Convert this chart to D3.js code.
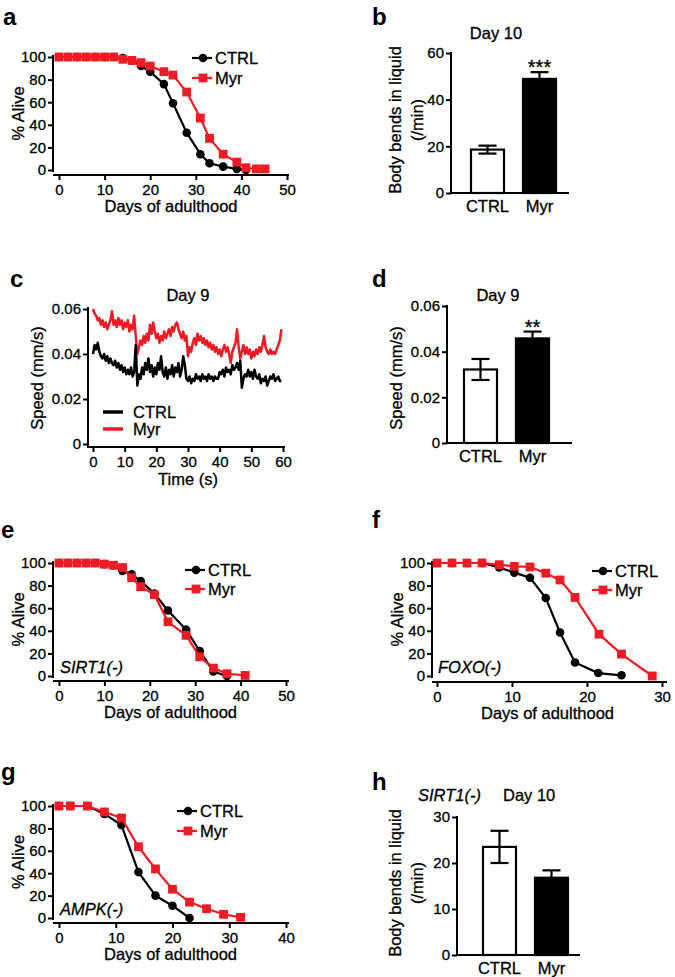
<!DOCTYPE html>
<html><head><meta charset="utf-8">
<script src="https://cdn.jsdelivr.net/npm/d3@7"></script>
<style>
body{margin:0;background:#fff}
svg{display:block}
svg text{stroke:#000;stroke-width:0.3px}
</style></head><body>
<svg id="chart" width="675" height="977"></svg>
<script>
const RED = "#ef1b24";
const FONT = '"Liberation Sans", Arial, Helvetica, sans-serif';

// ---------- DATA ----------
const pctTicks = [0, 20, 40, 60, 80, 100];
const barCats = ["CTRL", "Myr"];

// Panel a – lifespan (wild type)
const aCtrlDays = [0,2,4,6,8,10,12,14,16,18,20,23,25,28,31,33,36,39,41];
const aCtrlAlive = [100,100,100,100,100,100,100,99,97,92,87,76,59,33,14,6,3,1,0];
const aMyrDays = [0,2,4,6,8,10,12,14,16,18,20,23,25,28,31,33,36,39,41,43.3,45.2];
const aMyrAlive = [100,100,100,100,100,100,100,98,97,95,92,87,84,69,46,28,14,7,2,1,1];

// Panel b – body bends, day 10
const bMeans = [18.6, 48.9];
const bErr = [1.7, 2.9];

// Panel c – speed trace, day 9 (samples every 0.5 s)
const speedCtrl = [
0.040,0.044,0.042,0.045,0.041,0.039,0.038,0.040,0.037,0.039,
0.036,0.038,0.036,0.035,0.037,0.034,0.036,0.033,0.035,0.032,
0.034,0.031,0.033,0.031,0.034,0.030,0.032,0.044,0.026,0.031,
0.029,0.034,0.031,0.036,0.033,0.038,0.032,0.035,0.030,0.034,
0.031,0.036,0.033,0.039,0.032,0.030,0.034,0.029,0.033,0.031,
0.035,0.030,0.034,0.032,0.036,0.030,0.033,0.039,0.035,0.029,
0.028,0.030,0.027,0.029,0.028,0.031,0.029,0.030,0.028,0.031,
0.029,0.030,0.028,0.031,0.029,0.030,0.028,0.030,0.029,0.029,
0.032,0.031,0.033,0.030,0.034,0.032,0.033,0.031,0.035,0.033,
0.034,0.036,0.033,0.037,0.025,0.029,0.031,0.030,0.033,0.030,
0.032,0.029,0.033,0.030,0.029,0.031,0.027,0.029,0.028,0.030,
0.026,0.028,0.030,0.029,0.031,0.028,0.029,0.030,0.028,0.028];
const speedMyr = [
0.060,0.058,0.057,0.055,0.056,0.053,0.055,0.052,0.054,0.051,
0.053,0.055,0.059,0.053,0.055,0.052,0.056,0.053,0.055,0.051,
0.054,0.052,0.055,0.050,0.053,0.051,0.057,0.048,0.040,0.043,
0.046,0.044,0.048,0.045,0.049,0.046,0.053,0.049,0.054,0.050,
0.047,0.049,0.045,0.048,0.046,0.050,0.047,0.049,0.051,0.048,
0.052,0.050,0.053,0.054,0.051,0.049,0.047,0.050,0.046,0.048,
0.039,0.043,0.041,0.045,0.047,0.044,0.049,0.046,0.048,0.045,
0.047,0.044,0.046,0.043,0.045,0.042,0.044,0.041,0.043,0.040,
0.042,0.039,0.042,0.044,0.041,0.043,0.040,0.036,0.041,0.043,
0.045,0.051,0.043,0.038,0.041,0.044,0.040,0.043,0.040,0.042,
0.038,0.041,0.039,0.042,0.040,0.043,0.041,0.044,0.048,0.043,
0.041,0.040,0.042,0.040,0.041,0.040,0.042,0.044,0.046,0.051];
const sampleStep = 0.5;
const timeTicks = [0,10,20,30,40,50,60];
const speedTicks = [0, 0.02, 0.04, 0.06];

// Panel d – mean speed, day 9
const dMeans = [0.0322, 0.0458];
const dErr = [0.0046, 0.0030];

// Panel e – SIRT1(-)
const eCtrlDays = [0,2,4,6,8,10,12,14,16,18,21,24,28,31,34,37];
const eCtrlAlive = [100,100,100,100,100,99,98,93,90,84,73,58,41,22,4,0];
const eMyrDays = [0,2,4,6,8,10,12,14,16,18,21,24,28,31,34,37,41];
const eMyrAlive = [100,100,100,100,100,99,98,96,87,79,72,48,36,17,7,2,0.5];

// Panel f – FOXO(-)
const fCtrlDays = [0,2,4,6,8.3,10.3,12.4,14.5,16.4,18.4,21.5,24.6];
const fCtrlAlive = [100,100,100,100,96,91.5,87,69,38.5,12,2.6,0.6];
const fMyrDays = [0,2,4,6,8.3,10.3,12.4,14.5,16.4,18.4,21.6,24.6,28.7];
const fMyrAlive = [100,100,100,100,98.5,97,96.5,91,85,69.5,37,19.4,0];

// Panel g – AMPK(-)
const gCtrlDays = [0,2,5,8,11,14,17,20,23];
const gCtrlAlive = [100,100,100,93,83,41,20,11,0];
const gMyrDays = [0,2,5,8,11,14,17,20,23,26,29,32];
const gMyrAlive = [100,100,100,94.7,89.3,63.6,43.8,25.7,14.2,8.3,3.3,0.6];

// Panel h – SIRT1(-) body bends, day 10
const hMeans = [23.5, 16.8];
const hErr = [3.5, 1.6];

// ---------- DRAWING ----------
const svg = d3.select("#chart").attr("font-family", FONT);

function styleAxis(g, size) {
  g.select(".domain").remove();
  g.selectAll("text").attr("font-size", size).attr("fill", "#000").attr("font-family", FONT);
  g.selectAll("line").attr("stroke", "#000").attr("stroke-width", 2);
}
function seg(x1, y1, x2, y2, w) {
  svg.append("line").attr("x1", x1).attr("y1", y1).attr("x2", x2).attr("y2", y2)
    .attr("stroke", "#000").attr("stroke-width", w || 2);
}
function txt(x, y, s, opt) {
  opt = opt || {};
  const t = svg.append("text").attr("x", x).attr("y", y).text(s)
    .attr("font-size", opt.size || 16.5).attr("fill", opt.fill || "#000")
    .attr("text-anchor", opt.anchor || "start");
  if (opt.bold) t.attr("font-weight", "bold").style("stroke-width", "0px");
  if (opt.italic) t.attr("font-style", "italic");
  return t;
}
function vtxt(cx, cy, s, size) {
  svg.append("text").attr("transform", `translate(${cx},${cy}) rotate(-90)`)
    .attr("text-anchor", "middle").attr("font-size", size || 16.5).attr("fill", "#000").text(s);
}
function letter(x, y, s) { txt(x, y, s, {size: 24, bold: true}); }

function drawMarkers(sel, data, x, y, kind, color) {
  if (kind === "circle") {
    sel.selectAll(null).data(data).enter().append("circle")
      .attr("cx", d => x(d[0])).attr("cy", d => y(d[1])).attr("r", 4.3).attr("fill", color);
  } else {
    sel.selectAll(null).data(data).enter().append("rect")
      .attr("x", d => x(d[0]) - 4.4).attr("y", d => y(d[1]) - 4.4)
      .attr("width", 8.8).attr("height", 8.8).attr("fill", color);
  }
}

function survival(p) {
  const x = d3.scaleLinear().domain(p.xDomain).range(p.xRange);
  const y = d3.scaleLinear().domain([0, 100]).range(p.yRange);
  const gy = svg.append("g").attr("transform", `translate(${p.axisX},0)`)
    .call(d3.axisLeft(y).tickValues(pctTicks).tickSize(5).tickPadding(2));
  styleAxis(gy, 15);
  seg(p.axisX, y(100) - 2, p.axisX, y(0) + 2);
  const gx = svg.append("g").attr("transform", `translate(0,${p.axisY})`)
    .call(d3.axisBottom(x).tickValues(p.xTicks).tickSize(5).tickPadding(4));
  styleAxis(gx, 15);
  seg(p.axisX, p.axisY, p.axisEnd, p.axisY);

  const line = d3.line().x(d => x(d[0])).y(d => y(d[1]));
  const ctrl = p.ctrlDays.map((d, i) => [d, p.ctrlAlive[i]]);
  const myr = p.myrDays.map((d, i) => [d, p.myrAlive[i]]);
  const g = svg.append("g");
  g.append("path").datum(ctrl).attr("d", line).attr("fill", "none").attr("stroke", "#000").attr("stroke-width", 2.2);
  drawMarkers(g, ctrl, x, y, "circle", "#000");
  g.append("path").datum(myr).attr("d", line).attr("fill", "none").attr("stroke", RED).attr("stroke-width", 2.2);
  drawMarkers(g, myr, x, y, "square", RED);

  // legend
  const L = p.legend;
  svg.append("line").attr("x1", L.x).attr("x2", L.x + 20).attr("y1", L.y).attr("y2", L.y).attr("stroke", "#000").attr("stroke-width", 2.2);
  svg.append("circle").attr("cx", L.x + 11).attr("cy", L.y).attr("r", 4.3).attr("fill", "#000");
  txt(L.x + 23, L.y + 6, barCats[0], {size: 16.5});
  svg.append("line").attr("x1", L.x).attr("x2", L.x + 20).attr("y1", L.y + L.dy).attr("y2", L.y + L.dy).attr("stroke", RED).attr("stroke-width", 2.2);
  svg.append("rect").attr("x", L.x + 6.6).attr("y", L.y + L.dy - 4.4).attr("width", 8.8).attr("height", 8.8).attr("fill", RED);
  txt(L.x + 23, L.y + L.dy + 6, barCats[1], {size: 16.5});

  // axis titles
  vtxt(p.axisX - 29, (y(0) + y(100)) / 2, "% Alive");
  txt((p.xRange[0] + p.xRange[1]) / 2 - 2, p.axisY + 37, "Days of adulthood", {anchor: "middle"});
  if (p.strain) txt(x(0) + 1, y(0) - 3, p.strain, {italic: true});
}

function bars(p) {
  const x = d3.scaleBand().domain(barCats).range(p.band).paddingInner(0.365).paddingOuter(0.365);
  const y = d3.scaleLinear().domain([0, p.max]).range(p.yRange);
  const gy = svg.append("g").attr("transform", `translate(${p.axisX},0)`)
    .call(d3.axisLeft(y).tickValues(p.ticks).tickSize(5).tickPadding(2).tickFormat(p.fmt || (d => d)));
  styleAxis(gy, 15);
  seg(p.axisX, y(p.max) - 1, p.axisX, y(0));
  seg(p.axisX - 1, y(0), p.axisEnd, y(0));

  const w = x.bandwidth();
  barCats.forEach((c, i) => {
    const cx = x(c) + w / 2;
    const top = y(p.means[i]);
    const eTop = y(p.means[i] + p.err[i]), eBot = y(p.means[i] - p.err[i]);
    seg(cx, eTop, cx, i === 0 ? eBot : top, 2.2);
    seg(cx - 9, eTop, cx + 9, eTop, 2.2);
    if (i === 0) seg(cx - 9, eBot, cx + 9, eBot, 2.2);
    svg.append("rect").attr("x", x(c)).attr("y", top).attr("width", w).attr("height", y(0) - top)
      .attr("fill", i === 0 ? "none" : "#000").attr("stroke", "#000").attr("stroke-width", 2.2);
    txt(cx, y(0) + 19, c, {anchor: "middle", size: 16.5});
  });
  if (p.stars) {
    const cx = x(barCats[1]) + w / 2;
    txt(cx, y(p.means[1] + p.err[1]) + 2, p.stars, {anchor: "middle", size: 20});
  }
}

// Panel a
letter(3, 25, "a");
survival({xDomain: [0, 50], xRange: [59, 287], yRange: [170, 57], axisX: 53, axisY: 175, axisEnd: 289,
  xTicks: [0, 10, 20, 30, 40, 50],
  ctrlDays: aCtrlDays, ctrlAlive: aCtrlAlive, myrDays: aMyrDays, myrAlive: aMyrAlive,
  legend: {x: 192, y: 58, dy: 20}});

// Panel b
letter(372, 25, "b");
txt(496, 39, "Day 10", {anchor: "middle", size: 16.5});
vtxt(401, 120, "Body bends in liquid");
vtxt(423, 120, "(/min)");
bars({band: [452, 575], max: 60, yRange: [193, 53], axisX: 451, axisEnd: 569, ticks: [0, 20, 40, 60],
  means: bMeans, err: bErr, stars: "***"});

// Panel c
letter(10, 287, "c");
(function () {
  const x = d3.scaleLinear().domain([0, 60]).range([93, 283]);
  const y = d3.scaleLinear().domain([0, 0.06]).range([444, 309]);
  const fmt = d => d === 0 ? "0" : d3.format(".2f")(d);
  const gy = svg.append("g").attr("transform", "translate(88,0)")
    .call(d3.axisLeft(y).tickValues(speedTicks).tickSize(5).tickPadding(2).tickFormat(fmt));
  styleAxis(gy, 15);
  seg(88, y(0.06) - 2, 88, 447);
  const gx = svg.append("g").attr("transform", "translate(0,447)")
    .call(d3.axisBottom(x).tickValues(timeTicks).tickSize(5).tickPadding(4));
  styleAxis(gx, 15);
  seg(87, 447, 285, 447);
  const line = d3.line().x((d, i) => x(i * sampleStep)).y(d => y(d));
  svg.append("path").datum(speedMyr).attr("d", line).attr("fill", "none").attr("stroke", RED).attr("stroke-width", 2.5).attr("stroke-linejoin", "round");
  svg.append("path").datum(speedCtrl).attr("d", line).attr("fill", "none").attr("stroke", "#000").attr("stroke-width", 2.5).attr("stroke-linejoin", "round");
  txt(188, 301, "Day 9", {anchor: "middle", size: 16.5});
  vtxt(43, 378, "Speed (mm/s)");
  txt(188, 485, "Time (s)", {anchor: "middle"});
  // legend
  svg.append("line").attr("x1", 103).attr("x2", 123).attr("y1", 412).attr("y2", 412).attr("stroke", "#000").attr("stroke-width", 3.5);
  txt(133, 418, barCats[0]);
  svg.append("line").attr("x1", 103).attr("x2", 123).attr("y1", 429).attr("y2", 429).attr("stroke", RED).attr("stroke-width", 3.5);
  txt(133, 435, barCats[1]);
})();

// Panel d
letter(372, 287, "d");
txt(498, 301, "Day 9", {anchor: "middle", size: 16.5});
vtxt(402, 378, "Speed (mm/s)");
bars({band: [445, 568], max: 0.06, yRange: [443, 306], axisX: 447, axisEnd: 572, ticks: speedTicks,
  fmt: d => d === 0 ? "0" : d3.format(".2f")(d), means: dMeans, err: dErr, stars: "**"});

// Panel e
letter(1, 538, "e");
survival({xDomain: [0, 50], xRange: [59, 286], yRange: [676, 563], axisX: 53, axisY: 681, axisEnd: 289,
  xTicks: [0, 10, 20, 30, 40, 50],
  ctrlDays: eCtrlDays, ctrlAlive: eCtrlAlive, myrDays: eMyrDays, myrAlive: eMyrAlive,
  legend: {x: 185, y: 570, dy: 19}, strain: "SIRT1(-)"});

// Panel f
letter(372, 528, "f");
survival({xDomain: [0, 30], xRange: [437, 662], yRange: [676, 563], axisX: 432, axisY: 682, axisEnd: 667,
  xTicks: [0, 10, 20, 30],
  ctrlDays: fCtrlDays, ctrlAlive: fCtrlAlive, myrDays: fMyrDays, myrAlive: fMyrAlive,
  legend: {x: 592, y: 571, dy: 19}, strain: "FOXO(-)"});

// Panel g
letter(1, 780, "g");
survival({xDomain: [0, 40], xRange: [59, 286], yRange: [918, 806], axisX: 53, axisY: 923, axisEnd: 289,
  xTicks: [0, 10, 20, 30, 40],
  ctrlDays: gCtrlDays, ctrlAlive: gCtrlAlive, myrDays: gMyrDays, myrAlive: gMyrAlive,
  legend: {x: 177, y: 811, dy: 20}, strain: "AMPK(-)"});

// Panel h
letter(372, 790, "h");
txt(418, 801, "SIRT1(-)", {italic: true, size: 16.5});
txt(503, 801, "Day 10", {size: 16.5});
vtxt(401, 883, "Body bends in liquid");
vtxt(423, 883, "(/min)");
bars({band: [464, 587], max: 30, yRange: [955, 817], axisX: 457, axisEnd: 580, ticks: [0, 10, 20, 30],
  means: hMeans, err: hErr});
</script>
</body></html>
